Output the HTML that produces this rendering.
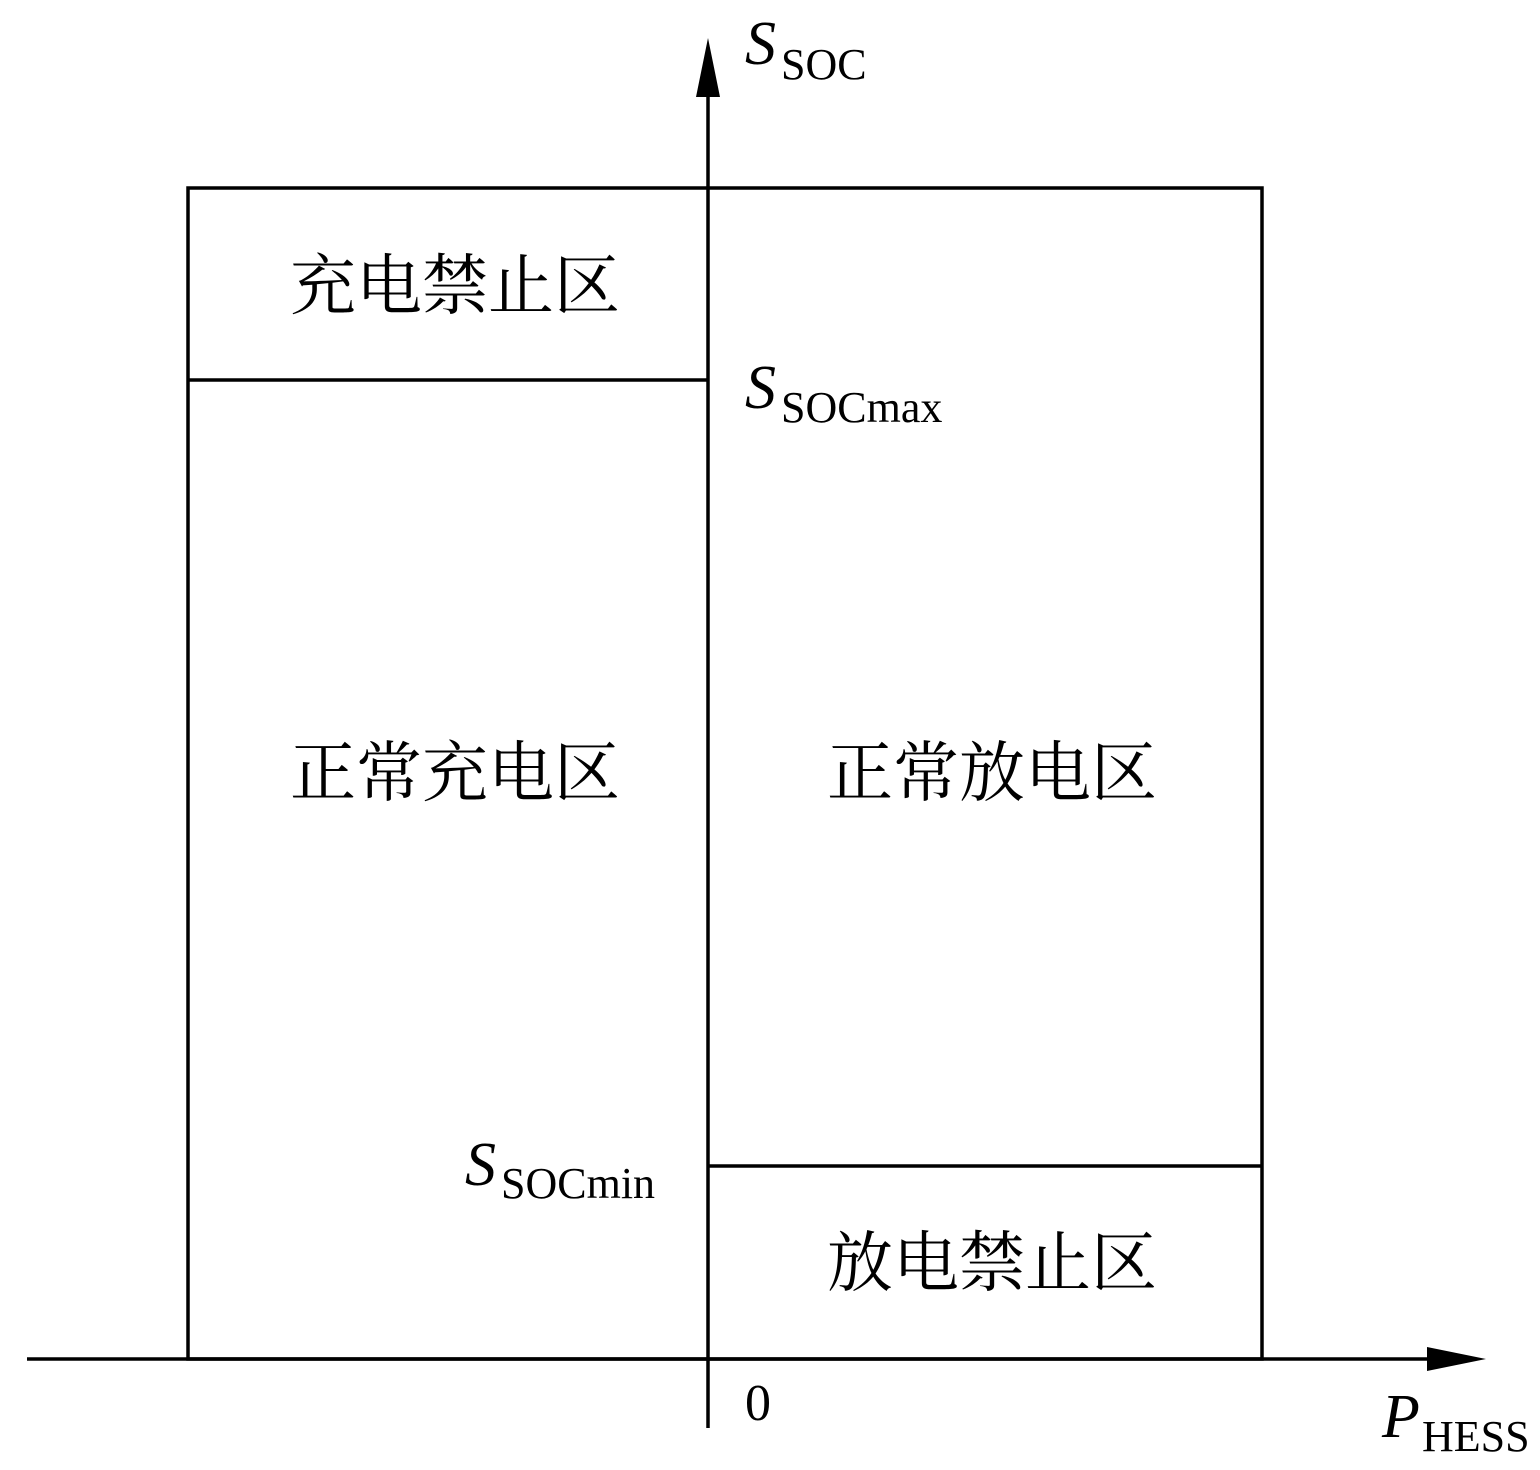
<!DOCTYPE html>
<html><head><meta charset="utf-8"><style>body{margin:0;background:#fff}</style></head>
<body>
<svg width="1540" height="1465" viewBox="0 0 1540 1465" xmlns="http://www.w3.org/2000/svg">
<g stroke="#000" stroke-width="3.5" fill="none">
<rect x="188" y="188" width="1074" height="1171"/>
<line x1="188" y1="380" x2="708" y2="380"/>
<line x1="708" y1="1166" x2="1262" y2="1166"/>
<line x1="708" y1="90" x2="708" y2="1428"/>
<line x1="27" y1="1359" x2="1435" y2="1359"/>
</g>
<polygon points="708,38 696,97 720,97" fill="#000"/>
<polygon points="1486,1359 1427,1347 1427,1371" fill="#000"/>
<g font-family="'Noto Serif CJK SC','Noto Sans CJK SC',serif" font-size="66" fill="#000" text-anchor="middle" dominant-baseline="central">
<text x="455" y="280">充电禁止区</text>
<text x="455" y="767">正常充电区</text>
<text x="992" y="767">正常放电区</text>
<text x="992" y="1257">放电禁止区</text>
</g>
<g font-family="'Liberation Serif',serif" fill="#000">
<text x="745" y="64" font-size="62" font-style="italic">S</text>
<text x="781" y="79" font-size="44">SOC</text>
<text x="745" y="408" font-size="62" font-style="italic">S</text>
<text x="781" y="422" font-size="44">SOCmax</text>
<text x="465" y="1185" font-size="62" font-style="italic">S</text>
<text x="501" y="1198" font-size="44">SOCmin</text>
<text x="745" y="1420" font-size="52">0</text>
<text x="1382" y="1437" font-size="62" font-style="italic">P</text>
<text x="1422" y="1451" font-size="44">HESS</text>
</g>
</svg>
</body></html>
